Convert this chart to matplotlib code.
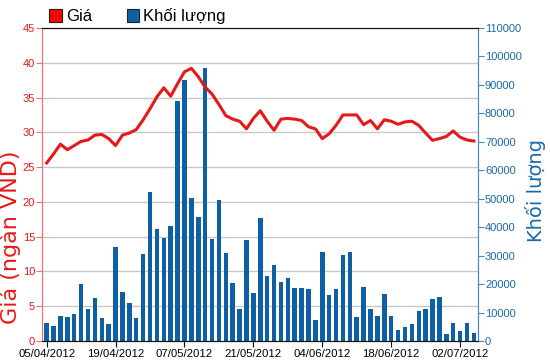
import matplotlib.pyplot as plt
import numpy as np
from matplotlib.patches import Patch

# nhãn trục x (mỗi 10 phiên)
tick_labels = ['05/04/2012', '19/04/2012', '07/05/2012', '21/05/2012',
               '04/06/2012', '18/06/2012', '02/07/2012']

# giá (ngàn VND)
price = [25.6, 26.9, 28.3, 27.5, 28.1, 28.7, 28.9, 29.6, 29.7, 29.1,
         28.1, 29.6, 29.9, 30.4, 31.8, 33.4, 35.1, 36.4, 35.2, 37.0,
         38.7, 39.2, 38.0, 36.5, 35.5, 34.0, 32.4, 31.9, 31.6, 30.5,
         32.0, 33.1, 31.6, 30.3, 31.9, 32.0, 31.9, 31.7, 30.8, 30.5,
         29.1, 29.8, 31.0, 32.5, 32.5, 32.5, 31.1, 31.7, 30.5, 31.8,
         31.6, 31.15, 31.5, 31.6, 31.0, 29.9, 28.85, 29.1, 29.4, 30.2,
         29.3, 28.9, 28.75]

# khối lượng
volume = [6300, 5300, 8900, 8500, 9400, 20000, 11200, 15000, 8000, 5800,
          33200, 17300, 13300, 8000, 30500, 52300, 39500, 36300, 40300, 84500,
          91600, 50400, 43700, 95900, 36000, 49600, 31000, 20300, 11200, 35500,
          16800, 43400, 22700, 26700, 20800, 22200, 18500, 18500, 18100, 7400,
          31400, 16100, 18100, 30100, 31400, 8500, 19000, 11200, 8900, 16500,
          8900, 3900, 4900, 5800, 10600, 11200, 14600, 15500, 2600, 6200,
          3500, 6200, 2700]

RED = '#e81818'
BLUE = '#0d5fa6'
AXBLUE = '#4a8ab8'
TICKFONT = ['Liberation Sans', 'DejaVu Sans']

fig = plt.figure(figsize=(5.5, 3.64), dpi=100)
ax_v = fig.add_axes([42 / 550, 23 / 364, 436 / 550, 313 / 364])
ax_p = ax_v.twinx()

x = np.arange(len(volume))
ax_v.bar(x, volume, width=0.65, color=BLUE, zorder=2)
ax_v.set_ylim(0, 110000)
ax_v.set_xlim(-0.68, len(volume) - 1 + 0.6)
ax_v.set_yticks(np.arange(0, 110001, 10000))
ax_v.set_yticks(np.linspace(0, 110000, 10), minor=True)
ax_v.grid(which='minor', axis='y', color='#c8c8c8', lw=1)
ax_v.set_axisbelow(True)
ax_v.tick_params(axis='y', which='minor', length=0)
ax_v.yaxis.tick_right()
ax_v.yaxis.set_label_position('right')
ax_v.set_xticks(x[::10], labels=tick_labels)

ax_p.plot(x, price, color=RED, lw=2.2, solid_joinstyle='round')
ax_p.set_ylim(0, 45)
ax_p.set_yticks(range(0, 46, 5))
ax_p.yaxis.tick_left()
ax_p.yaxis.set_label_position('left')

for a in (ax_v, ax_p):
    a.spines['left'].set_color('#f07070')
    a.spines['right'].set_color(AXBLUE)
    a.spines['top'].set_color('#111111')
    a.spines['bottom'].set_color('#111111')

ax_v.tick_params(axis='y', which='major', colors=AXBLUE, length=4, labelcolor='#1a6aa8', pad=1)
ax_v.tick_params(axis='x', length=4, color='#111111', pad=2)
ax_p.tick_params(axis='y', colors='#f07070', length=4, labelcolor=RED, pad=1)
for lab in ax_v.get_xticklabels():
    lab.set_family(TICKFONT)
    lab.set_fontsize(8.2)
for lab in ax_v.get_yticklabels() + ax_p.get_yticklabels():
    lab.set_family(TICKFONT)
    lab.set_fontsize(8)

ax_p.set_ylabel('Giá (ngàn VND)', color=RED, fontsize=16)
ax_p.yaxis.set_label_coords(-0.048, 0.33)
ax_v.set_ylabel('Khối lượng', color='#1a6aa8', fontsize=14)
ax_v.yaxis.set_label_coords(1.108, 0.48)

handles = [Patch(facecolor='#ff0000', edgecolor='#222222', lw=0.8),
           Patch(facecolor='#1060a8', edgecolor='#222222', lw=0.8)]
fig.legend(handles, ['Giá', 'Khối lượng'], loc='upper left',
           bbox_to_anchor=(49 / 550, 1 - 8 / 364), ncol=2, frameon=False,
           borderpad=0, borderaxespad=0, handlelength=0.75, handleheight=0.8,
           handletextpad=0.25, columnspacing=2.1,
           prop={'family': TICKFONT, 'size': 12})

fig.savefig('out.png', dpi=100)
